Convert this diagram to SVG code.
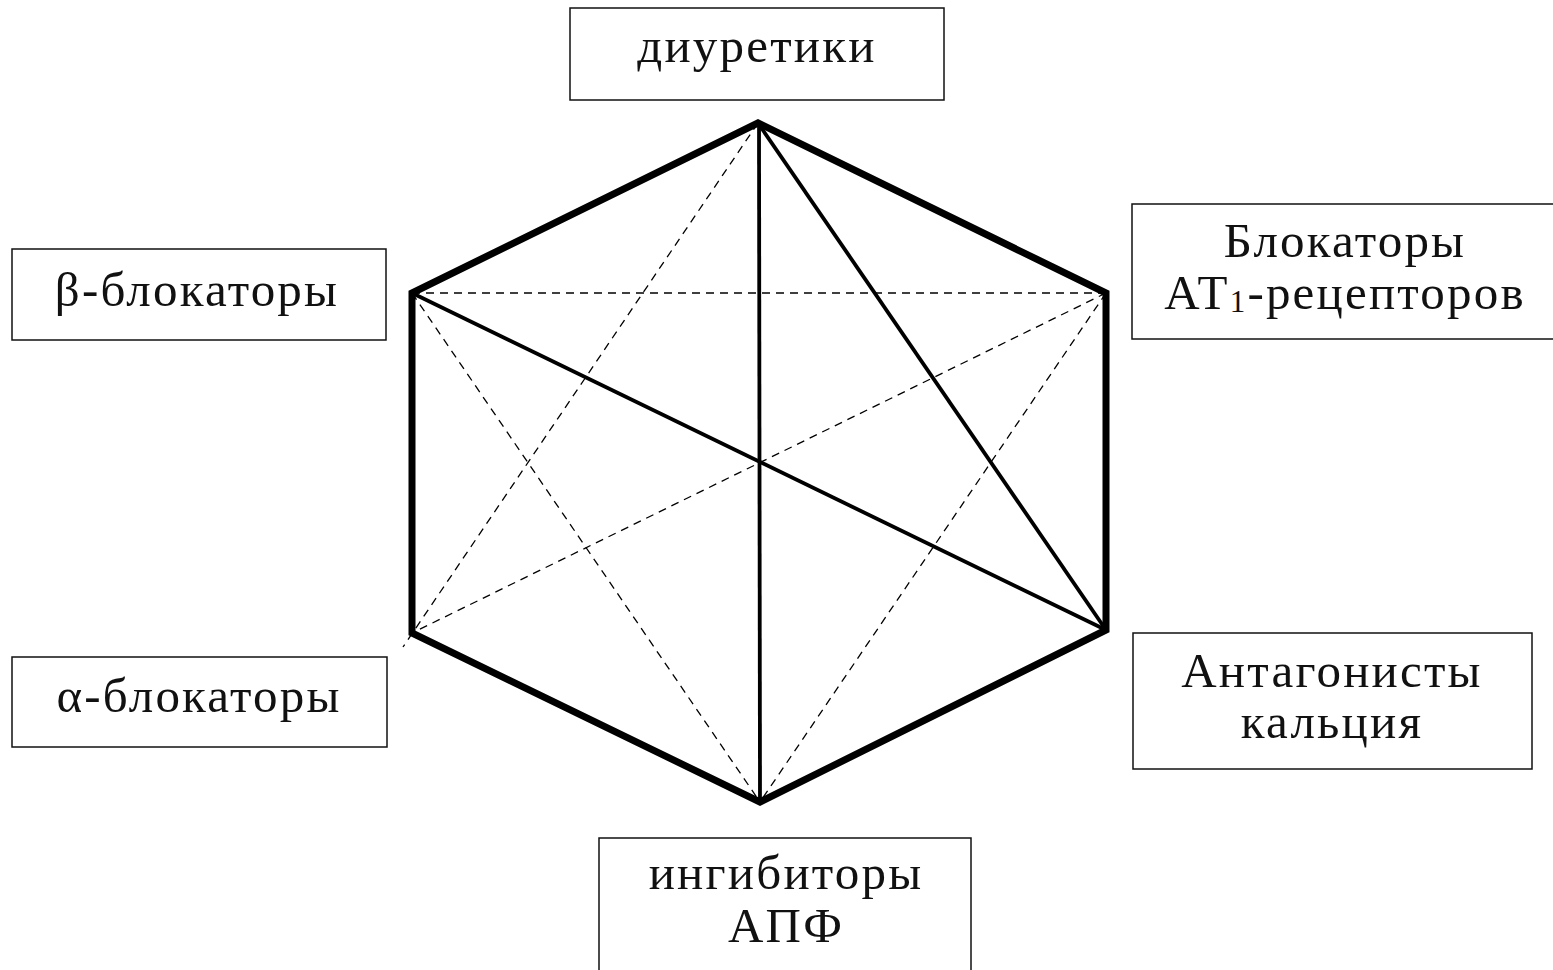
<svg xmlns="http://www.w3.org/2000/svg" width="1553" height="970" viewBox="0 0 1553 970">
<style>
.box{fill:#fff;stroke:#111;stroke-width:1.5}
.t{font-family:"Liberation Serif","Times New Roman",serif;font-size:49px;fill:#111;text-anchor:middle;letter-spacing:2.2px}
.hex{fill:none;stroke:#000;stroke-width:7;stroke-linejoin:miter}
.solid{stroke:#000;stroke-width:3.8;fill:none}
.dash{stroke:#000;stroke-width:1.3;stroke-dasharray:8 6;fill:none}
</style>
<rect width="1553" height="970" fill="#fff"/>
<g id="connectors">
<line class="dash" x1="412" y1="293" x2="1106" y2="293"/>
<line class="dash" x1="758" y1="123" x2="403" y2="647"/>
<line class="dash" x1="412" y1="293" x2="760" y2="802"/>
<line class="dash" x1="1106" y1="293" x2="412" y2="633"/>
<line class="dash" x1="1106" y1="293" x2="760" y2="802"/>
<line class="solid" x1="759" y1="123" x2="760" y2="802"/>
<line class="solid" x1="758" y1="123" x2="1106" y2="630"/>
<line class="solid" x1="412" y1="293" x2="1106" y2="630"/>
<polygon class="hex" points="758,123 1106,293 1106,630 760,802 412,633 412,293"/>
</g>
<g id="diuretics">
<rect class="box" x="570" y="8" width="374" height="92"/>
<text class="t" x="757" y="62">диуретики</text>
</g>
<g id="beta">
<rect class="box" x="12" y="249" width="374" height="91"/>
<text class="t" x="197" y="306">β-блокаторы</text>
</g>
<g id="at1">
<rect class="box" x="1132" y="204" width="425" height="135"/>
<text class="t" x="1345" y="257">Блокаторы</text>
<text class="t" x="1345" y="309">АТ<tspan font-size="31" dy="3">1</tspan><tspan dy="-3">-рецепторов</tspan></text>
</g>
<g id="alpha">
<rect class="box" x="12" y="657" width="375" height="90"/>
<text class="t" x="199" y="712">α-блокаторы</text>
</g>
<g id="calcium">
<rect class="box" x="1133" y="633" width="399" height="136"/>
<text class="t" x="1332" y="687">Антагонисты</text>
<text class="t" x="1332" y="738">кальция</text>
</g>
<g id="ace">
<rect class="box" x="599" y="838" width="372" height="140"/>
<text class="t" x="786" y="889">ингибиторы</text>
<text class="t" x="786" y="942">АПФ</text>
</g>
</svg>
